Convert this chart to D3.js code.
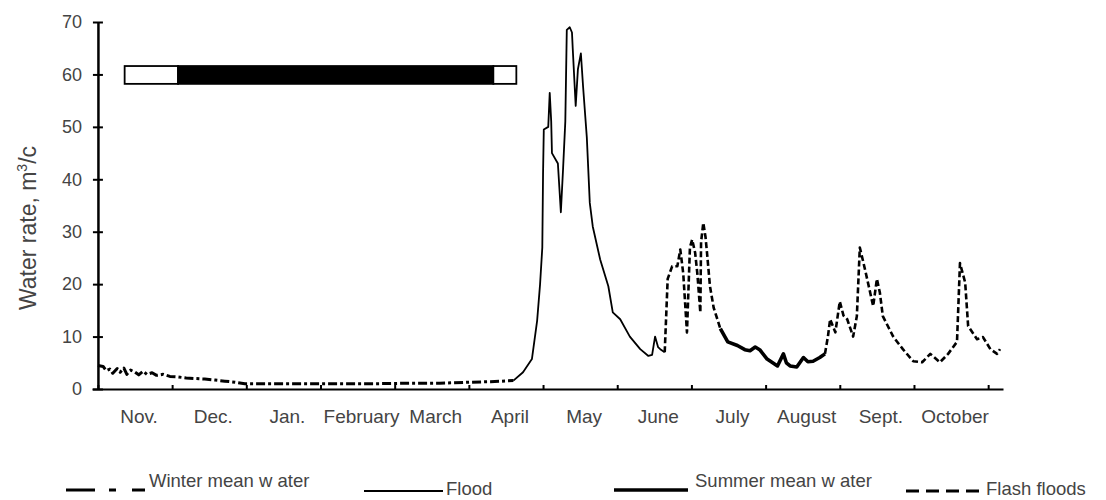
<!DOCTYPE html>
<head>
    <meta charset="utf-8">
    <script src="https://d3js.org/d3.v7.min.js"></script>
    <style>
      body { margin: 0; background: #fff; }
      text { font-family: "Liberation Sans", Arial, sans-serif; fill: #444; }
      .axis path, .axis line { stroke: #000; }
    </style>
</head>
<body>
    <div class="chart"></div>

    <script>
      // month labels, x positions are fractional months counted from Nov 1
      var months = ["Nov.", "Dec.", "Jan.", "February", "March", "April",
                    "May", "June", "July", "August", "Sept.", "October"];
      var yTicks = [0, 10, 20, 30, 40, 50, 60, 70];

      var winter = [[0,4.5],[0.07,4.3],[0.11,3.5],[0.16,3.8],[0.2,3.0],[0.26,3.9],[0.3,3.2],
        [0.35,4.0],[0.39,2.8],[0.44,3.6],[0.5,3.2],[0.55,2.7],[0.61,3.4],[0.66,2.8],[0.73,3.1],
        [0.79,2.6],[0.88,2.8],[0.97,2.4],[1.08,2.3],[1.19,2.1],[1.31,2.0],[1.44,1.9],[1.58,1.7],
        [1.71,1.5],[1.85,1.3],[1.98,1.0],[2.18,1.0],[2.59,1.0],[3.13,1.0],[3.67,1.0],[4.21,1.1],
        [4.61,1.1],[5.02,1.3],[5.29,1.4],[5.6,1.6]];

      var flood = [[5.6,1.6],[5.73,3.2],[5.85,5.7],[5.92,13],[5.96,20],[5.99,27],[6.0,41],
        [6.01,49.5],[6.07,50],[6.09,56.5],[6.11,51],[6.12,45],[6.2,43],[6.24,33.7],[6.27,42],
        [6.3,51],[6.32,68.5],[6.36,69],[6.39,68],[6.4,65],[6.44,54],[6.47,61],[6.51,64],
        [6.54,57.6],[6.59,48],[6.63,35.5],[6.67,31],[6.77,24.7],[6.88,19.6],[6.94,14.6],
        [7.04,13.3],[7.17,10],[7.31,7.6],[7.42,6.3],[7.47,6.5],[7.51,10],[7.55,8],[7.58,7.6],
        [7.64,7]];

      var flashJune = [[7.64,7],[7.68,21],[7.74,23.4],[7.81,23.4],[7.85,26.6],[7.89,22],
        [7.94,10.8],[7.98,27],[8.01,28.5],[8.05,26],[8.08,22],[8.12,14.6],[8.13,28],[8.16,31.7],
        [8.19,29],[8.21,26],[8.25,19.6],[8.3,15.5],[8.35,13.3],[8.39,11.5]];

      var summer = [[8.39,11.5],[8.49,9],[8.62,8.3],[8.72,7.5],[8.79,7.3],[8.86,8],[8.92,7.5],
        [9.02,5.7],[9.16,4.4],[9.24,6.7],[9.28,5],[9.33,4.4],[9.42,4.2],[9.51,6],[9.57,5.2],
        [9.64,5.3],[9.73,6],[9.8,6.7]];

      var flashAutumn = [[9.8,6.7],[9.84,10],[9.87,13.3],[9.94,10.8],[10.0,16.7],[10.05,14],
        [10.1,13.3],[10.18,10],[10.23,13.9],[10.27,27],[10.34,22.8],[10.4,19],[10.45,15.8],
        [10.5,21],[10.54,18.4],[10.58,13.9],[10.72,10],[10.85,7.6],[10.99,5.3],[11.11,5.1],
        [11.22,6.7],[11.35,5.1],[11.46,6.7],[11.58,9],[11.62,24],[11.69,20.3],[11.73,12],
        [11.85,9.5],[11.93,9.9],[12.03,7.6],[12.12,6.7],[12.16,7.6]];

      // ice bar: [from month, to month, fill]
      var iceBar = [[0.36, 1.08, "#fff"], [1.08, 5.33, "#000"], [5.33, 5.64, "#fff"]];
      var iceLow = 58.2, iceHigh = 61.6;

      var width = 1106, height = 500;

      var svg = d3.select(".chart").append("svg")
          .attr("width", width)
          .attr("height", height);

      var x = d3.scaleLinear().domain([-0.08, 12.2]).range([92, 1003]);
      var y = d3.scaleLinear().domain([0, 70]).range([389, 22]);

      // x axis
      var xAxis = d3.axisBottom(x)
          .tickValues(d3.range(0, 13))
          .tickSizeInner(-4)
          .tickSizeOuter(0)
          .tickFormat("");
      var gx = svg.append("g")
          .attr("class", "x axis")
          .attr("transform", "translate(0," + y(0) + ")")
          .call(xAxis);
      gx.select(".domain").attr("stroke-width", 2);
      gx.selectAll(".tick line").attr("stroke-width", 2);

      svg.append("g").selectAll("text")
          .data(months)
          .enter().append("text")
          .attr("x", function(d, i) { return x(i + 0.5) + 4; })
          .attr("y", 423)
          .attr("text-anchor", "middle")
          .attr("font-size", 19)
          .text(function(d) { return d; });

      // y axis
      var yAxis = d3.axisLeft(y)
          .tickValues(yTicks)
          .tickSizeInner(5)
          .tickSizeOuter(0)
          .tickPadding(11);
      var gy = svg.append("g")
          .attr("class", "y axis")
          .attr("transform", "translate(" + x(0) + ",0)")
          .call(yAxis);
      gy.select(".domain").attr("stroke-width", 2.5);
      gy.selectAll(".tick line").attr("x1", 5).attr("stroke-width", 2);
      gy.selectAll(".tick text")
          .attr("font-size", 18)
          .attr("font-family", "Liberation Sans, Arial, sans-serif");

      var title = svg.append("text")
          .attr("transform", "translate(36,228) rotate(-90)")
          .attr("text-anchor", "middle")
          .attr("font-size", 23);
      title.append("tspan").text("Water rate, m");
      title.append("tspan").attr("font-size", 14).attr("dy", -9).text("3");
      title.append("tspan").attr("dy", 9).text("/c");

      // ice bar
      svg.append("g").selectAll("rect")
          .data(iceBar)
          .enter().append("rect")
          .attr("x", function(d) { return x(d[0]); })
          .attr("width", function(d) { return x(d[1]) - x(d[0]); })
          .attr("y", y(iceHigh))
          .attr("height", y(iceLow) - y(iceHigh))
          .attr("fill", function(d) { return d[2]; })
          .attr("stroke", "#000")
          .attr("stroke-width", 1.8);

      // water line, each segment styled
      var line = d3.line()
          .x(function(d) { return x(d[0]); })
          .y(function(d) { return y(d[1]); });

      var segments = [
        { data: winter, w: 3, dash: "9,3,3,3" },
        { data: flood, w: 1.8, dash: null },
        { data: flashJune, w: 2.6, dash: "6,3" },
        { data: summer, w: 3.6, dash: null },
        { data: flashAutumn, w: 2.6, dash: "6,3" }
      ];

      svg.append("g").selectAll("path")
          .data(segments)
          .enter().append("path")
          .attr("d", function(d) { return line(d.data); })
          .attr("fill", "none")
          .attr("stroke", "#000")
          .attr("stroke-width", function(d) { return d.w; })
          .attr("stroke-linejoin", "round")
          .attr("stroke-dasharray", function(d) { return d.dash; });

      // legend
      var legend = [
        { x1: 66, x2: 145, ly: 490, w: 3, dash: "29,14,7,16,13", tx: 149, ty: 487, label: "Winter mean w ater" },
        { x1: 364, x2: 443, ly: 491, w: 1.8, dash: null, tx: 446, ty: 495, label: "Flood" },
        { x1: 614, x2: 688, ly: 490, w: 3.6, dash: null, tx: 695, ty: 487, label: "Summer mean w ater" },
        { x1: 906, x2: 979, ly: 491, w: 3, dash: "13,7", tx: 986, ty: 495, label: "Flash floods" }
      ];

      var lg = svg.append("g").selectAll("g")
          .data(legend)
          .enter().append("g");
      lg.append("line")
          .attr("x1", function(d) { return d.x1; })
          .attr("x2", function(d) { return d.x2; })
          .attr("y1", function(d) { return d.ly; })
          .attr("y2", function(d) { return d.ly; })
          .attr("stroke", "#000")
          .attr("stroke-width", function(d) { return d.w; })
          .attr("stroke-dasharray", function(d) { return d.dash; });
      lg.append("text")
          .attr("x", function(d) { return d.tx; })
          .attr("y", function(d) { return d.ty; })
          .attr("font-size", 18.5)
          .text(function(d) { return d.label; });
    </script>
</body>
